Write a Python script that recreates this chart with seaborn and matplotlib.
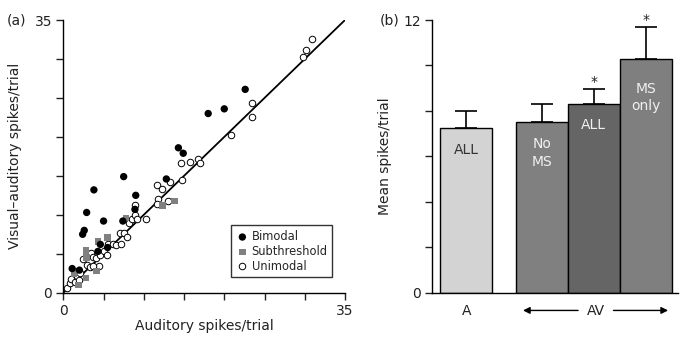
import numpy as np
import pandas as pd
import seaborn as sns
import matplotlib.pyplot as plt

# --- panel (a) data: auditory vs visual-auditory spikes/trial ---
bimodal_x = [1.1, 2.0, 2.9, 2.4, 2.6, 3.8, 4.3, 4.6, 5.0, 5.5, 7.4, 7.5, 8.9, 9.0,
             12.8, 14.3, 14.9, 18.0, 20.0, 22.6]
bimodal_y = [3.1, 2.9, 10.3, 7.5, 8.0, 13.2, 5.3, 6.2, 9.2, 5.8, 9.2, 14.9, 10.7, 12.5,
             14.6, 18.6, 17.9, 23.0, 23.6, 26.1]

sub_x = [2.8, 2.9, 2.8, 1.9, 1.4, 4.1, 4.3, 5.5, 7.8, 12.3, 13.8, 1.3]
sub_y = [5.4, 4.5, 1.9, 1.0, 2.7, 2.8, 6.6, 7.1, 9.6, 11.2, 11.8, 2.4]

uni_x = [0.4, 0.8, 1.0, 1.5, 1.7, 1.9, 2.1, 2.5, 2.9, 3.3, 3.5, 3.7, 4.1, 4.4, 3.7, 4.6,
         5.0, 5.4, 5.6, 6.2, 6.6, 7.0, 7.2, 7.5, 7.9, 8.2, 8.5, 8.9, 8.9, 9.1, 10.3,
         11.7, 12.2, 11.8, 11.6, 13.0, 13.3, 14.7, 14.6, 15.7, 16.7, 17.0, 20.8,
         23.5, 23.4, 29.8, 30.2, 30.9]
uni_y = [0.6, 1.3, 1.8, 1.4, 2.1, 1.6, 2.5, 4.3, 3.6, 3.3, 5.1, 4.6, 4.4, 3.4, 3.4, 4.8,
         5.4, 4.8, 6.3, 6.3, 6.1, 7.7, 6.3, 7.7, 7.1, 8.9, 9.4, 11.3, 10.0, 9.5, 9.5,
         13.8, 13.3, 12.0, 11.4, 11.8, 14.2, 14.5, 16.7, 16.8, 17.2, 16.7, 20.2,
         24.4, 22.5, 30.2, 31.2, 32.6]

# --- panel (b) data: mean spikes/trial ---
bar_groups = ["A ALL", "AV No MS", "AV ALL", "AV MS only"]
bar_pos = [0, 1.45, 2.45, 3.45]
bar_means = [7.23, 7.50, 8.29, 10.27]
bar_err = [0.77, 0.79, 0.67, 1.41]
bar_text = ["ALL", "No\nMS", "ALL", "MS\nonly"]
bar_text_y = [6.3, 6.15, 7.4, 8.6]
bar_colors = ["#d3d3d3", "#808080", "#656565", "#7f7f7f"]
star_groups = [2, 3]

sns.set_style("ticks")
plt.rcParams['font.family'] = ['DejaVu Sans']
TXT = "#222222"
FS = 10

fig = plt.figure(figsize=(6.86, 3.43), dpi=100)
ax1 = fig.add_axes([0.0923, 0.1466, 0.4106, 0.795])
ax2 = fig.add_axes([0.6293, 0.1466, 0.359, 0.795])

# ---------------- panel (a) ----------------
ax1.plot([0, 35], [0, 35], color="black", lw=1.3, zorder=1)
sns.scatterplot(x=uni_x, y=uni_y, ax=ax1, marker="o", s=22, facecolor="white",
                edgecolor="black", linewidth=0.7, label="Unimodal", zorder=3)
sns.scatterplot(x=sub_x, y=sub_y, ax=ax1, marker="s", s=22, color="#808080",
                edgecolor="none", label="Subthreshold", zorder=3)
sns.scatterplot(x=bimodal_x, y=bimodal_y, ax=ax1, marker="o", s=28, color="black",
                edgecolor="none", label="Bimodal", zorder=4)

h, l = ax1.get_legend_handles_labels()
order = [l.index("Bimodal"), l.index("Subthreshold"), l.index("Unimodal")]
leg = ax1.legend([h[i] for i in order], [l[i] for i in order], loc="lower right",
                 bbox_to_anchor=(0.975, 0.036), fontsize=8.3, frameon=True,
                 fancybox=False, edgecolor="black", handletextpad=0.2,
                 borderpad=0.4, labelspacing=0.15, handlelength=1.2)
leg.get_frame().set_linewidth(1.0)

ax1.set_xlim(0, 35)
ax1.set_ylim(0, 35)
ticks = list(range(0, 36, 5))
labels = ["0"] + [""] * 6 + ["35"]
ax1.set_xticks(ticks)
ax1.set_xticklabels(labels)
ax1.set_yticks(ticks)
ax1.set_yticklabels(labels)
ax1.tick_params(length=5, width=1, labelsize=FS, colors=TXT, pad=3)
ax1.set_xlabel("Auditory spikes/trial", fontsize=FS, color=TXT, labelpad=1)
ax1.set_ylabel("Visual\u2013auditory spikes/trial", fontsize=FS, color=TXT, labelpad=9)
sns.despine(ax=ax1)
for sp in ax1.spines.values():
    sp.set_linewidth(1.0)
    sp.set_color("black")
fig.text(7 / 686, 1 - 20 / 343, "(a)", fontsize=FS, color=TXT, va="center")

# ---------------- panel (b) ----------------
df = pd.DataFrame({"group": bar_groups, "pos": bar_pos, "mean": bar_means})
sns.barplot(data=df, x="pos", y="mean", hue="group", palette=bar_colors,
            native_scale=True, dodge=False, width=1.0, errorbar=None,
            edgecolor="black", linewidth=1.0, legend=False, ax=ax2)
ax2.errorbar(bar_pos, bar_means, yerr=[np.zeros(len(bar_err)), bar_err], fmt="none",
             ecolor="black", elinewidth=1.2, capsize=8, capthick=1.2, zorder=5)

for i, (p, t, ty) in enumerate(zip(bar_pos, bar_text, bar_text_y)):
    c = "#333333" if i == 0 else "#f0f0f0"
    ax2.text(p, ty, t, ha="center", va="center", fontsize=FS, color=c,
             linespacing=1.3, zorder=6)
for i in star_groups:
    ax2.text(bar_pos[i], bar_means[i] + bar_err[i] + 0.3, "*", ha="center",
             va="center", fontsize=FS, color=TXT, clip_on=False)

ax2.set_xlim(-0.665, 4.07)
ax2.set_ylim(0, 12)
ax2.set_yticks(range(0, 13, 2))
ax2.set_yticklabels(["0", "", "", "", "", "", "12"])
ax2.set_xticks([0, 2.49])
ax2.set_xticklabels(["A", "AV"])
ax2.tick_params(axis="y", length=5, width=1, labelsize=FS, colors=TXT, pad=3)
ax2.tick_params(axis="x", length=0, labelsize=FS, colors=TXT, pad=8)
ax2.set_xlabel("")
ax2.set_ylabel("Mean spikes/trial", fontsize=FS, color=TXT, labelpad=8)
sns.despine(ax=ax2)
for sp in ax2.spines.values():
    sp.set_linewidth(1.0)
    sp.set_color("black")

# arrows either side of the AV label
tr = ax2.get_xaxis_transform()
for tip, tail in [(1.09, 2.15), (3.88, 2.83)]:
    ax2.annotate("", xy=(tip, -0.065), xytext=(tail, -0.065), xycoords=tr,
                 textcoords=tr,
                 arrowprops=dict(arrowstyle="-|>", color="black", lw=1.0,
                                 mutation_scale=10, shrinkA=0, shrinkB=0))
fig.text(380 / 686, 1 - 20 / 343, "(b)", fontsize=FS, color=TXT, va="center")

fig.savefig("out.png", dpi=100)
